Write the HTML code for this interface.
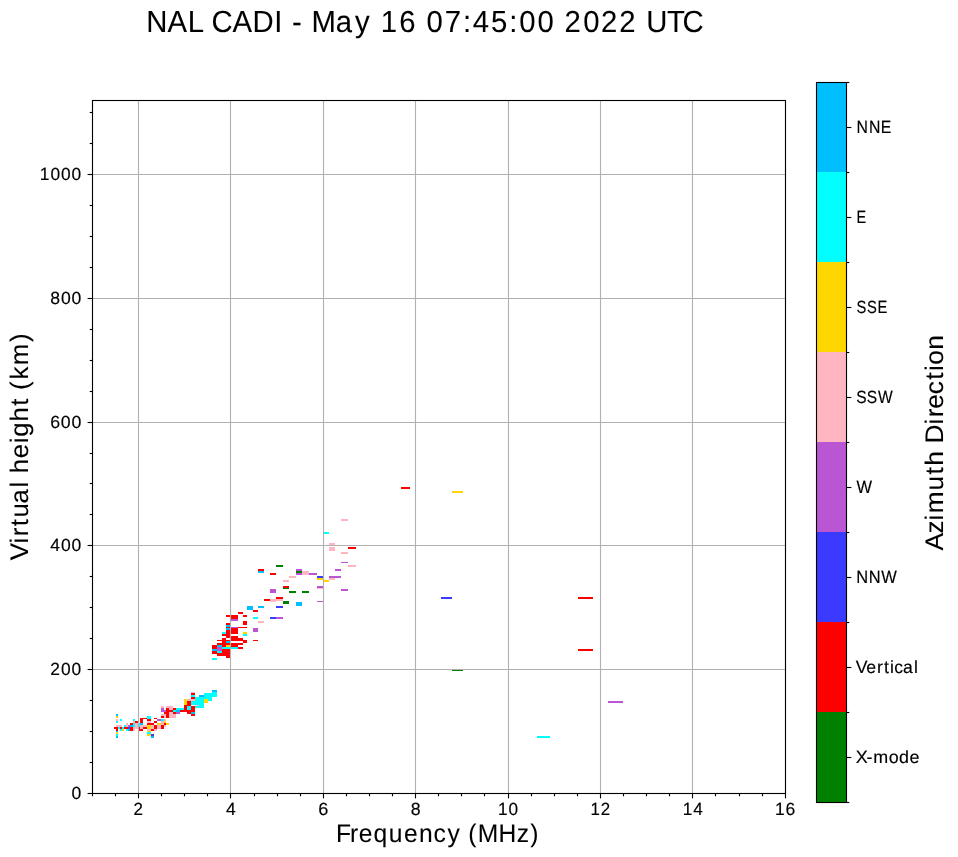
<!DOCTYPE html>
<html><head><meta charset="utf-8"><style>
html,body{margin:0;padding:0;background:#fff;}
svg{display:block;will-change:transform;}
text{font-family:"Liberation Sans",sans-serif;fill:#000;text-rendering:geometricPrecision;stroke:#000;stroke-width:0.08px;}
.sm text{stroke-width:0.15px;}
</style></head><body>
<svg width="958" height="857" viewBox="0 0 958 857">
<rect x="0" y="0" width="958" height="857" fill="#fff"/>
<text transform="translate(146.16,31.90) scale(0.9595,1)" font-size="30.52" x="0.00 22.30 43.23 59.94 68.23 89.93 110.95 133.61 142.79 152.12 163.13 172.37 197.57 217.58 234.60 244.50 263.72 282.25 292.30 311.30 330.19 340.51 359.47 378.42 388.74 407.81 426.35 436.00 455.46 474.13 493.19 512.13 521.09 542.91 558.96">NAL CADI - May 16 07:45:00 2022 UTC</text>
<g shape-rendering="crispEdges"><rect x="116" y="714" width="2" height="2" fill="#00bfff"/><rect x="116" y="716" width="2" height="2" fill="#ffd700"/><rect x="116" y="719" width="2" height="2" fill="#ffb6c1"/><rect x="120" y="719" width="2" height="2" fill="#00ffff"/><rect x="116" y="721" width="2" height="2" fill="#00ffff"/><rect x="133" y="719" width="2" height="2" fill="#00ffff"/><rect x="133" y="721" width="2" height="2" fill="#ffb6c1"/><rect x="135" y="721" width="3" height="2" fill="#ff0000"/><rect x="126" y="723" width="2" height="4" fill="#ffb6c1"/><rect x="130" y="723" width="3" height="2" fill="#ff0000"/><rect x="133" y="723" width="2" height="4" fill="#00ffff"/><rect x="135" y="723" width="3" height="6" fill="#ffb6c1"/><rect x="116" y="725" width="6" height="2" fill="#ffb6c1"/><rect x="124" y="725" width="2" height="2" fill="#00ffff"/><rect x="128" y="725" width="2" height="2" fill="#ba55d3"/><rect x="130" y="725" width="3" height="2" fill="#00bfff"/><rect x="114" y="727" width="4" height="2" fill="#ff0000"/><rect x="118" y="727" width="2" height="2" fill="#00ffff"/><rect x="120" y="727" width="2" height="2" fill="#ff0000"/><rect x="122" y="727" width="2" height="2" fill="#00ffff"/><rect x="124" y="727" width="4" height="2" fill="#ff0000"/><rect x="128" y="727" width="2" height="2" fill="#3b3bff"/><rect x="130" y="727" width="3" height="4" fill="#ff0000"/><rect x="133" y="727" width="2" height="4" fill="#ffb6c1"/><rect x="116" y="729" width="2" height="2" fill="#ff0000"/><rect x="120" y="729" width="2" height="2" fill="#00ffff"/><rect x="122" y="729" width="2" height="2" fill="#ffd700"/><rect x="126" y="729" width="2" height="2" fill="#00ffff"/><rect x="128" y="729" width="2" height="2" fill="#00bfff"/><rect x="116" y="731" width="2" height="1" fill="#00bfff"/><rect x="116" y="732" width="2" height="2" fill="#ffd700"/><rect x="116" y="734" width="2" height="2" fill="#00ffff"/><rect x="116" y="736" width="2" height="2" fill="#00bfff"/><rect x="161" y="710" width="5" height="2" fill="#ba55d3"/><rect x="164" y="712" width="5" height="2" fill="#ff0000"/><rect x="161" y="714" width="5" height="2" fill="#ffb6c1"/><rect x="164" y="716" width="2" height="2" fill="#ffb6c1"/><rect x="161" y="716" width="3" height="2" fill="#ff0000"/><rect x="147" y="716" width="4" height="3" fill="#00ffff"/><rect x="140" y="718" width="7" height="1" fill="#ff0000"/><rect x="140" y="719" width="3" height="4" fill="#ff0000"/><rect x="154" y="718" width="3" height="1" fill="#ff0000"/><rect x="157" y="719" width="4" height="2" fill="#ba55d3"/><rect x="161" y="719" width="3" height="2" fill="#00ffff"/><rect x="164" y="719" width="2" height="2" fill="#ffb6c1"/><rect x="147" y="719" width="4" height="2" fill="#ff0000"/><rect x="147" y="721" width="4" height="2" fill="#ffb6c1"/><rect x="154" y="721" width="3" height="2" fill="#ff0000"/><rect x="161" y="721" width="3" height="4" fill="#ffb6c1"/><rect x="164" y="721" width="2" height="2" fill="#ffd700"/><rect x="139" y="723" width="1" height="4" fill="#00ffff"/><rect x="140" y="723" width="3" height="2" fill="#00bfff"/><rect x="147" y="723" width="7" height="2" fill="#ff0000"/><rect x="157" y="723" width="4" height="2" fill="#ffd700"/><rect x="164" y="723" width="2" height="2" fill="#ff0000"/><rect x="140" y="725" width="7" height="2" fill="#ffb6c1"/><rect x="147" y="725" width="4" height="4" fill="#ffd700"/><rect x="151" y="725" width="3" height="4" fill="#ffb6c1"/><rect x="154" y="725" width="3" height="4" fill="#ff0000"/><rect x="157" y="725" width="4" height="4" fill="#ffb6c1"/><rect x="161" y="725" width="3" height="4" fill="#ff0000"/><rect x="164" y="725" width="2" height="2" fill="#ffb6c1"/><rect x="139" y="727" width="1" height="4" fill="#ff0000"/><rect x="140" y="727" width="3" height="2" fill="#ffb6c1"/><rect x="143" y="727" width="4" height="2" fill="#ff0000"/><rect x="139" y="729" width="4" height="2" fill="#ff0000"/><rect x="147" y="729" width="4" height="2" fill="#ffb6c1"/><rect x="151" y="729" width="3" height="2" fill="#ff0000"/><rect x="154" y="729" width="3" height="2" fill="#ffb6c1"/><rect x="147" y="731" width="4" height="1" fill="#ffd700"/><rect x="147" y="732" width="4" height="2" fill="#00ffff"/><rect x="147" y="734" width="4" height="2" fill="#ffd700"/><rect x="151" y="734" width="3" height="2" fill="#3b3bff"/><rect x="151" y="736" width="3" height="2" fill="#00bfff"/><rect x="166" y="710" width="7" height="2" fill="#ff0000"/><rect x="173" y="710" width="3" height="2" fill="#00ffff"/><rect x="176" y="710" width="4" height="2" fill="#00bfff"/><rect x="180" y="710" width="15" height="2" fill="#ff0000"/><rect x="166" y="714" width="3" height="4" fill="#ff0000"/><rect x="169" y="712" width="4" height="6" fill="#ffb6c1"/><rect x="173" y="712" width="3" height="2" fill="#ff0000"/><rect x="176" y="712" width="4" height="2" fill="#ba55d3"/><rect x="173" y="714" width="3" height="4" fill="#ffb6c1"/><rect x="187" y="712" width="4" height="2" fill="#ff0000"/><rect x="191" y="712" width="4" height="2" fill="#00bfff"/><rect x="191" y="714" width="4" height="2" fill="#ff0000"/><rect x="166" y="723" width="3" height="2" fill="#ffd700"/><rect x="161" y="706" width="3" height="2" fill="#ffb6c1"/><rect x="161" y="708" width="3" height="2" fill="#ba55d3"/><rect x="191" y="692" width="4" height="1" fill="#ffb6c1"/><rect x="191" y="693" width="4" height="2" fill="#ff0000"/><rect x="191" y="695" width="4" height="2" fill="#00ffff"/><rect x="191" y="697" width="4" height="2" fill="#ff0000"/><rect x="195" y="697" width="9" height="8" fill="#00ffff"/><rect x="195" y="705" width="4" height="1" fill="#ffb6c1"/><rect x="199" y="705" width="5" height="1" fill="#00ffff"/><rect x="195" y="706" width="9" height="2" fill="#00ffff"/><rect x="184" y="699" width="3" height="6" fill="#ffd700"/><rect x="187" y="699" width="8" height="2" fill="#ffb6c1"/><rect x="187" y="701" width="4" height="5" fill="#ff0000"/><rect x="191" y="701" width="4" height="4" fill="#00ffff"/><rect x="184" y="705" width="3" height="7" fill="#ff0000"/><rect x="187" y="706" width="4" height="4" fill="#00ffff"/><rect x="191" y="706" width="4" height="4" fill="#ff0000"/><rect x="166" y="706" width="7" height="2" fill="#ffb6c1"/><rect x="166" y="708" width="3" height="2" fill="#ff0000"/><rect x="169" y="708" width="4" height="2" fill="#ffb6c1"/><rect x="173" y="708" width="3" height="2" fill="#ff0000"/><rect x="176" y="708" width="8" height="2" fill="#00ffff"/><rect x="212" y="690" width="5" height="2" fill="#00bfff"/><rect x="212" y="692" width="5" height="5" fill="#00ffff"/><rect x="204" y="693" width="8" height="6" fill="#00ffff"/><rect x="208" y="699" width="4" height="2" fill="#00ffff"/><rect x="199" y="695" width="5" height="2" fill="#00bfff"/><rect x="204" y="699" width="4" height="4" fill="#ffd700"/><rect x="226" y="636" width="4" height="2" fill="#ff0000"/><rect x="231" y="636" width="7" height="5" fill="#ff0000"/><rect x="222" y="638" width="4" height="9" fill="#ff0000"/><rect x="217" y="640" width="5" height="1" fill="#ff0000"/><rect x="226" y="640" width="4" height="1" fill="#ff0000"/><rect x="226" y="641" width="4" height="2" fill="#00bfff"/><rect x="217" y="643" width="13" height="2" fill="#ff0000"/><rect x="231" y="643" width="7" height="4" fill="#ff0000"/><rect x="212" y="645" width="5" height="4" fill="#ff0000"/><rect x="217" y="645" width="5" height="2" fill="#00bfff"/><rect x="226" y="645" width="4" height="2" fill="#ffd700"/><rect x="217" y="647" width="5" height="4" fill="#ba55d3"/><rect x="222" y="647" width="8" height="2" fill="#00ffff"/><rect x="231" y="647" width="7" height="2" fill="#00ffff"/><rect x="212" y="649" width="5" height="2" fill="#00bfff"/><rect x="222" y="649" width="8" height="7" fill="#ff0000"/><rect x="226" y="656" width="4" height="2" fill="#ff0000"/><rect x="212" y="651" width="5" height="3" fill="#ff0000"/><rect x="217" y="651" width="5" height="2" fill="#00ffff"/><rect x="217" y="653" width="5" height="3" fill="#ff0000"/><rect x="212" y="658" width="5" height="2" fill="#00ffff"/><rect x="226" y="615" width="4" height="2" fill="#ff0000"/><rect x="231" y="615" width="7" height="4" fill="#ff0000"/><rect x="231" y="619" width="7" height="2" fill="#ba55d3"/><rect x="226" y="623" width="4" height="2" fill="#ff0000"/><rect x="226" y="625" width="4" height="2" fill="#00bfff"/><rect x="226" y="627" width="4" height="1" fill="#ff0000"/><rect x="226" y="628" width="4" height="2" fill="#00bfff"/><rect x="226" y="630" width="4" height="6" fill="#ff0000"/><rect x="231" y="627" width="7" height="1" fill="#ba55d3"/><rect x="231" y="628" width="7" height="6" fill="#ff0000"/><rect x="222" y="632" width="4" height="2" fill="#00ffff"/><rect x="222" y="634" width="4" height="2" fill="#ff0000"/><rect x="247" y="606" width="6" height="4" fill="#00bfff"/><rect x="258" y="606" width="6" height="2" fill="#00bfff"/><rect x="253" y="610" width="5" height="2" fill="#ff0000"/><rect x="238" y="612" width="5" height="2" fill="#ff0000"/><rect x="243" y="615" width="4" height="2" fill="#ff0000"/><rect x="253" y="617" width="5" height="2" fill="#00ffff"/><rect x="243" y="621" width="4" height="4" fill="#ff0000"/><rect x="258" y="621" width="6" height="2" fill="#ffb6c1"/><rect x="238" y="627" width="9" height="1" fill="#ff0000"/><rect x="253" y="628" width="5" height="4" fill="#ba55d3"/><rect x="243" y="632" width="4" height="2" fill="#ffd700"/><rect x="243" y="634" width="4" height="2" fill="#00ffff"/><rect x="238" y="638" width="5" height="3" fill="#ff0000"/><rect x="243" y="640" width="4" height="3" fill="#ff0000"/><rect x="238" y="643" width="5" height="2" fill="#ff0000"/><rect x="238" y="647" width="5" height="2" fill="#ff0000"/><rect x="253" y="640" width="5" height="1" fill="#ff0000"/><rect x="270" y="589" width="6" height="4" fill="#ba55d3"/><rect x="264" y="599" width="6" height="2" fill="#ff0000"/><rect x="270" y="599" width="6" height="3" fill="#ffb6c1"/><rect x="289" y="576" width="7" height="2" fill="#ffb6c1"/><rect x="283" y="580" width="6" height="2" fill="#ffb6c1"/><rect x="283" y="586" width="6" height="2" fill="#ff0000"/><rect x="283" y="588" width="6" height="1" fill="#008000"/><rect x="289" y="591" width="7" height="2" fill="#008000"/><rect x="302" y="591" width="7" height="2" fill="#008000"/><rect x="276" y="597" width="7" height="2" fill="#ff0000"/><rect x="276" y="599" width="7" height="2" fill="#ffb6c1"/><rect x="283" y="601" width="6" height="3" fill="#008000"/><rect x="296" y="602" width="6" height="4" fill="#00bfff"/><rect x="317" y="576" width="6" height="2" fill="#3b3bff"/><rect x="317" y="578" width="6" height="2" fill="#ffd700"/><rect x="329" y="576" width="12" height="2" fill="#ba55d3"/><rect x="329" y="578" width="6" height="2" fill="#ffb6c1"/><rect x="324" y="580" width="5" height="2" fill="#ffd700"/><rect x="317" y="586" width="6" height="2" fill="#ba55d3"/><rect x="317" y="588" width="6" height="1" fill="#ffb6c1"/><rect x="341" y="589" width="7" height="2" fill="#ba55d3"/><rect x="317" y="601" width="6" height="1" fill="#ba55d3"/><rect x="276" y="565" width="7" height="2" fill="#008000"/><rect x="258" y="569" width="6" height="2" fill="#ff0000"/><rect x="258" y="571" width="6" height="2" fill="#00bfff"/><rect x="270" y="573" width="6" height="2" fill="#ff0000"/><rect x="329" y="547" width="6" height="4" fill="#ffb6c1"/><rect x="329" y="543" width="6" height="2" fill="#ffb6c1"/><rect x="296" y="569" width="6" height="2" fill="#ba55d3"/><rect x="296" y="571" width="6" height="2" fill="#008000"/><rect x="296" y="573" width="6" height="2" fill="#ba55d3"/><rect x="302" y="571" width="7" height="4" fill="#ffb6c1"/><rect x="309" y="573" width="8" height="2" fill="#ba55d3"/><rect x="335" y="569" width="6" height="2" fill="#ba55d3"/><rect x="348" y="547" width="8" height="2" fill="#ff0000"/><rect x="341" y="552" width="7" height="2" fill="#ffb6c1"/><rect x="341" y="562" width="7" height="1" fill="#ba55d3"/><rect x="348" y="565" width="8" height="2" fill="#ffb6c1"/><rect x="341" y="519" width="7" height="2" fill="#ffb6c1"/><rect x="324" y="532" width="5" height="2" fill="#00ffff"/><rect x="276" y="606" width="7" height="2" fill="#3b3bff"/><rect x="270" y="617" width="6" height="2" fill="#3b3bff"/><rect x="276" y="617" width="7" height="2" fill="#ba55d3"/><rect x="401" y="487" width="9" height="2" fill="#ff0000"/><rect x="452" y="491" width="11" height="2" fill="#ffd700"/><rect x="441" y="597" width="11" height="2" fill="#3b3bff"/><rect x="578" y="597" width="15" height="2" fill="#ff0000"/><rect x="578" y="649" width="15" height="2" fill="#ff0000"/><rect x="452" y="669" width="11" height="2" fill="#008000"/><rect x="537" y="736" width="13" height="2" fill="#00ffff"/><rect x="608" y="701" width="15" height="2" fill="#ba55d3"/></g>
<g stroke="#b0b0b0" stroke-width="1.11"><line x1="138.5" y1="100.5" x2="138.5" y2="793.5"/><line x1="230.5" y1="100.5" x2="230.5" y2="793.5"/><line x1="323.5" y1="100.5" x2="323.5" y2="793.5"/><line x1="415.5" y1="100.5" x2="415.5" y2="793.5"/><line x1="508.5" y1="100.5" x2="508.5" y2="793.5"/><line x1="600.5" y1="100.5" x2="600.5" y2="793.5"/><line x1="692.5" y1="100.5" x2="692.5" y2="793.5"/><line x1="785.5" y1="100.5" x2="785.5" y2="793.5"/><line x1="92.5" y1="793.5" x2="785.5" y2="793.5"/><line x1="92.5" y1="669.5" x2="785.5" y2="669.5"/><line x1="92.5" y1="545.5" x2="785.5" y2="545.5"/><line x1="92.5" y1="422.5" x2="785.5" y2="422.5"/><line x1="92.5" y1="298.5" x2="785.5" y2="298.5"/><line x1="92.5" y1="174.5" x2="785.5" y2="174.5"/></g>
<rect x="92.5" y="100.5" width="693" height="693" fill="none" stroke="#000" stroke-width="1.11"/>
<g stroke="#000" stroke-width="1.11" stroke-linecap="butt"><line x1="138.5" y1="793.5" x2="138.5" y2="798.4"/><line x1="230.5" y1="793.5" x2="230.5" y2="798.4"/><line x1="323.5" y1="793.5" x2="323.5" y2="798.4"/><line x1="415.5" y1="793.5" x2="415.5" y2="798.4"/><line x1="508.5" y1="793.5" x2="508.5" y2="798.4"/><line x1="600.5" y1="793.5" x2="600.5" y2="798.4"/><line x1="692.5" y1="793.5" x2="692.5" y2="798.4"/><line x1="785.5" y1="793.5" x2="785.5" y2="798.4"/><line x1="92.5" y1="793.5" x2="92.5" y2="796.3"/><line x1="115.5" y1="793.5" x2="115.5" y2="796.3"/><line x1="161.5" y1="793.5" x2="161.5" y2="796.3"/><line x1="184.5" y1="793.5" x2="184.5" y2="796.3"/><line x1="207.5" y1="793.5" x2="207.5" y2="796.3"/><line x1="254.5" y1="793.5" x2="254.5" y2="796.3"/><line x1="277.5" y1="793.5" x2="277.5" y2="796.3"/><line x1="300.5" y1="793.5" x2="300.5" y2="796.3"/><line x1="346.5" y1="793.5" x2="346.5" y2="796.3"/><line x1="369.5" y1="793.5" x2="369.5" y2="796.3"/><line x1="392.5" y1="793.5" x2="392.5" y2="796.3"/><line x1="438.5" y1="793.5" x2="438.5" y2="796.3"/><line x1="461.5" y1="793.5" x2="461.5" y2="796.3"/><line x1="484.5" y1="793.5" x2="484.5" y2="796.3"/><line x1="531.5" y1="793.5" x2="531.5" y2="796.3"/><line x1="554.5" y1="793.5" x2="554.5" y2="796.3"/><line x1="577.5" y1="793.5" x2="577.5" y2="796.3"/><line x1="623.5" y1="793.5" x2="623.5" y2="796.3"/><line x1="646.5" y1="793.5" x2="646.5" y2="796.3"/><line x1="669.5" y1="793.5" x2="669.5" y2="796.3"/><line x1="715.5" y1="793.5" x2="715.5" y2="796.3"/><line x1="739.5" y1="793.5" x2="739.5" y2="796.3"/><line x1="762.5" y1="793.5" x2="762.5" y2="796.3"/><line x1="87.6" y1="793.5" x2="92.5" y2="793.5"/><line x1="87.6" y1="669.5" x2="92.5" y2="669.5"/><line x1="87.6" y1="545.5" x2="92.5" y2="545.5"/><line x1="87.6" y1="422.5" x2="92.5" y2="422.5"/><line x1="87.6" y1="298.5" x2="92.5" y2="298.5"/><line x1="87.6" y1="174.5" x2="92.5" y2="174.5"/><line x1="89.7" y1="762.5" x2="92.5" y2="762.5"/><line x1="89.7" y1="731.5" x2="92.5" y2="731.5"/><line x1="89.7" y1="700.5" x2="92.5" y2="700.5"/><line x1="89.7" y1="638.5" x2="92.5" y2="638.5"/><line x1="89.7" y1="607.5" x2="92.5" y2="607.5"/><line x1="89.7" y1="576.5" x2="92.5" y2="576.5"/><line x1="89.7" y1="514.5" x2="92.5" y2="514.5"/><line x1="89.7" y1="483.5" x2="92.5" y2="483.5"/><line x1="89.7" y1="453.5" x2="92.5" y2="453.5"/><line x1="89.7" y1="391.5" x2="92.5" y2="391.5"/><line x1="89.7" y1="360.5" x2="92.5" y2="360.5"/><line x1="89.7" y1="329.5" x2="92.5" y2="329.5"/><line x1="89.7" y1="267.5" x2="92.5" y2="267.5"/><line x1="89.7" y1="236.5" x2="92.5" y2="236.5"/><line x1="89.7" y1="205.5" x2="92.5" y2="205.5"/><line x1="89.7" y1="143.5" x2="92.5" y2="143.5"/><line x1="89.7" y1="112.5" x2="92.5" y2="112.5"/></g>
<g class="sm"><text transform="translate(133.61,815.00) scale(0.9589,1)" font-size="17.66" x="0.00">2</text><text transform="translate(226.03,815.00) scale(0.9949,1)" font-size="17.66" x="0.00">4</text><text transform="translate(318.24,815.00) scale(1.0296,1)" font-size="17.66" x="0.00">6</text><text transform="translate(410.74,815.00) scale(1.0056,1)" font-size="17.66" x="0.00">8</text><text transform="translate(497.90,815.00) scale(0.9736,1)" font-size="17.66" x="0.00 10.95">10</text><text transform="translate(590.38,815.00) scale(0.9547,1)" font-size="17.66" x="0.00 10.93">12</text><text transform="translate(682.66,815.00) scale(0.9743,1)" font-size="17.66" x="0.00 10.94">14</text><text transform="translate(774.95,815.00) scale(0.9912,1)" font-size="17.66" x="0.00 10.76">16</text><text transform="translate(71.51,798.80) scale(0.9948,1)" font-size="17.66" x="0.00">0</text><text transform="translate(50.19,674.80) scale(0.9832,1)" font-size="17.66" x="0.00 10.98 21.74">200</text><text transform="translate(50.35,550.80) scale(0.9949,1)" font-size="17.66" x="0.00 10.63 21.26">400</text><text transform="translate(50.30,427.80) scale(1.0062,1)" font-size="17.66" x="0.00 10.51 21.02">600</text><text transform="translate(50.34,303.80) scale(0.9984,1)" font-size="17.66" x="0.00 10.59 21.19">800</text><text transform="translate(39.74,179.80) scale(0.9845,1)" font-size="17.66" x="0.00 10.83 21.58 32.32">1000</text></g>
<g shape-rendering="crispEdges"><rect x="816" y="82" width="31" height="90" fill="#00bfff"/><rect x="816" y="172" width="31" height="90" fill="#00ffff"/><rect x="816" y="262" width="31" height="90" fill="#ffd700"/><rect x="816" y="352" width="31" height="90" fill="#ffb6c1"/><rect x="816" y="442" width="31" height="90" fill="#ba55d3"/><rect x="816" y="532" width="31" height="90" fill="#3b3bff"/><rect x="816" y="622" width="31" height="90" fill="#ff0000"/><rect x="816" y="712" width="31" height="90" fill="#008000"/></g>
<rect x="816.5" y="82.5" width="30" height="720" fill="none" stroke="#000" stroke-width="1.11"/>
<g stroke="#000" stroke-width="1.11"><line x1="846.5" y1="82.5" x2="849.3" y2="82.5"/><line x1="846.5" y1="172.5" x2="849.3" y2="172.5"/><line x1="846.5" y1="262.5" x2="849.3" y2="262.5"/><line x1="846.5" y1="352.5" x2="849.3" y2="352.5"/><line x1="846.5" y1="442.5" x2="849.3" y2="442.5"/><line x1="846.5" y1="532.5" x2="849.3" y2="532.5"/><line x1="846.5" y1="622.5" x2="849.3" y2="622.5"/><line x1="846.5" y1="712.5" x2="849.3" y2="712.5"/><line x1="846.5" y1="802.5" x2="849.3" y2="802.5"/><line x1="846.5" y1="127.5" x2="851.4" y2="127.5"/><line x1="846.5" y1="217.5" x2="851.4" y2="217.5"/><line x1="846.5" y1="307.5" x2="851.4" y2="307.5"/><line x1="846.5" y1="397.5" x2="851.4" y2="397.5"/><line x1="846.5" y1="487.5" x2="851.4" y2="487.5"/><line x1="846.5" y1="577.5" x2="851.4" y2="577.5"/><line x1="846.5" y1="667.5" x2="851.4" y2="667.5"/><line x1="846.5" y1="757.5" x2="851.4" y2="757.5"/></g>
<g class="sm"><text transform="translate(856.47,132.80) scale(0.8949,1)" font-size="17.66" x="0.00 13.90 27.18">NNE</text><text transform="translate(856.40,222.80) scale(0.8179,1)" font-size="17.66" x="0.00">E</text><text transform="translate(856.42,312.80) scale(0.8338,1)" font-size="17.66" x="0.00 12.66 25.17">SSE</text><text transform="translate(856.14,402.80) scale(0.8813,1)" font-size="17.66" x="0.00 11.97 24.75">SSW</text><text transform="translate(856.43,492.80) scale(0.9304,1)" font-size="17.66" x="0.00">W</text><text transform="translate(856.24,582.80) scale(0.9314,1)" font-size="17.66" x="0.00 13.35 26.90">NNW</text><text transform="translate(855.77,672.80) scale(0.9976,1)" font-size="17.66" x="0.00 10.59 21.39 28.21 34.33 38.57 47.33 58.33">Vertical</text><text transform="translate(855.66,762.80) scale(1.0151,1)" font-size="17.66" x="0.00 10.67 17.24 32.63 42.74 53.10">X-mode</text></g>
<text transform="translate(336.08,841.90) scale(0.9688,1)" font-size="25.43" x="0.00 14.47 23.39 38.66 54.48 70.06 85.53 100.57 114.99 129.09 136.52 146.32 167.72 186.49 200.47">Frequency (MHz)</text>
<text transform="translate(27.70,0) rotate(-90) translate(-560.24,0) scale(1.0147,1)" font-size="25.43" x="0.00 16.56 23.72 33.42 42.02 55.91 71.60 77.93 85.66 100.47 115.24 121.64 136.79 152.38 160.84 167.87 178.01 192.05 215.12" y="0">Virtual height (km)</text>
<text transform="translate(943.10,0) rotate(-90) translate(-550.40,0) scale(1.0332,1)" font-size="25.43" x="0.00 16.29 29.04 35.86 57.95 73.39 81.84 96.42 103.43 121.95 128.95 137.17 151.09 165.07 173.64 179.72 194.23" y="0">Azimuth Direction</text>
</svg>
</body></html>
